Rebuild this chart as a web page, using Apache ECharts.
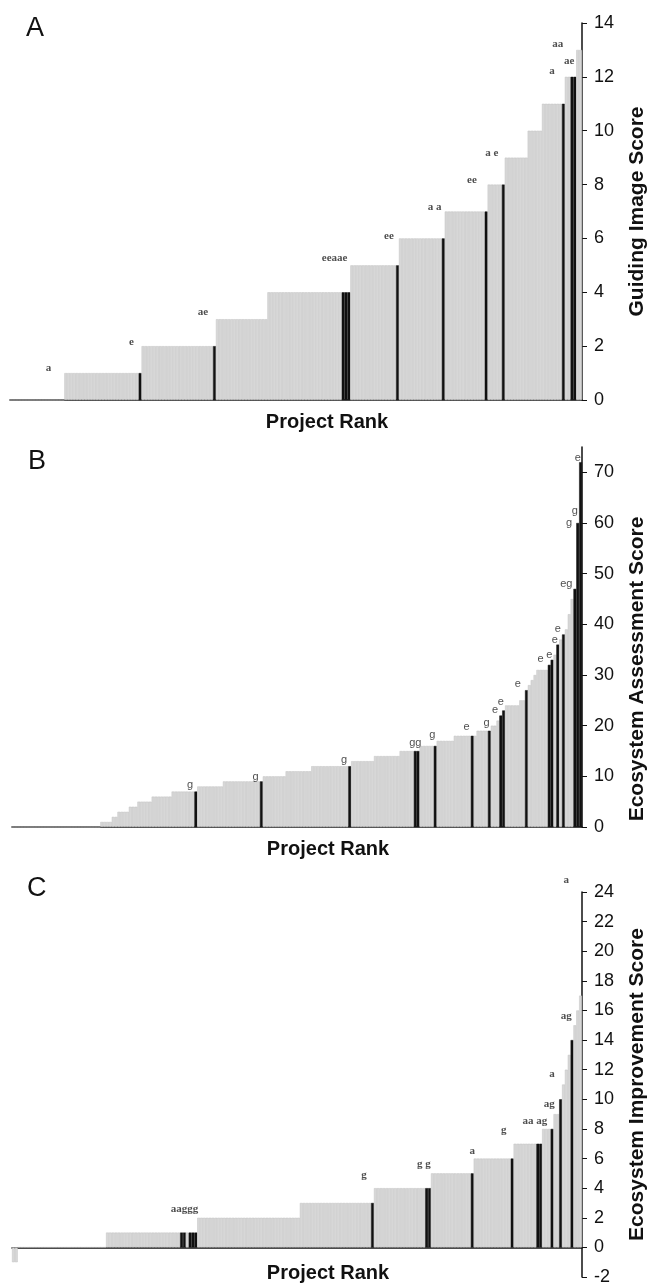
<!DOCTYPE html>
<html lang="en">
<head>
  <meta charset="UTF-8">
  <title>Project scores</title>
  <style>
    body { margin: 0; background: #fff; }
  </style>
</head>
<body>
  <div id="main" style="width:648px;height:1285px"></div>

  <script src="https://cdn.jsdelivr.net/npm/echarts@6/dist/echarts.min.js"></script>

  <script>
    // projects ranked from lowest to highest score, 200 in each panel
    var projectRanks = []
    for (var r = 1; r <= 200; r++) projectRanks.push(r)

    // [score, number of projects with that score], read left to right
    var guidingSteps = [[0,19],[1,27],[2,26],[3,18],[4,29],[5,17],[6,16],[7,15],[8,6],[9,8],[10,5],[11,8],[12,4],[13,2]]
    var assessmentSteps = [[0,31],[1,4],[2,2],[3,4],[4,3],[5,5],[6,7],[7,9],[8,9],[9,14],[10,8],[11,9],[12,14],[13,8],[14,9],[15,7],[16,6],[17,6],[18,8],[19,5],[20,2],[21,1],[22,1],[23,1],[24,5],[25,2],
      [27,1],[28,1],[29,1],[30,1],[31,4],[32,1],[33,1],[34,1],[36,1],[37,1],[38,1],[39,1],[42,1],[45,1],[47,1],[60,1],[72,1]]
    var improvementSteps = [[-1,2],[0,31],[1,32],[2,36],[3,26],[4,20],[5,15],[6,14],[7,10],[8,4],[9,2],[10,1],[11,1],[12,1],[13,1],[14,1],[15,1],[16,1],[17,1]]

    // ranks (0-based) of the highlighted projects, drawn black
    var guidingHighlight = [45, 71, 116, 117, 118, 135, 151, 166, 172, 193, 196, 197]
    var assessmentHighlight = [64, 87, 118, 141, 142, 148, 161, 167, 171, 172, 180, 188, 189, 191, 193, 197, 198, 199]
    var improvementHighlight = [59, 60, 62, 63, 64, 126, 145, 146, 161, 175, 184, 185, 189, 192, 196]

    // letter marks: rank, height in score units, text
    var guidingMarkRanks = [13, 42, 67, 113, 132, 148, 161, 168, 189, 191, 195]
    var guidingMarkLevels = [1.2, 2.15, 3.25, 5.25, 6.1, 7.15, 8.15, 9.15, 12.2, 13.2, 12.6]
    var guidingMarkTexts = ['a', 'e', 'ae', 'eeaae', 'ee', 'a a', 'ee', 'a e', 'a', 'aa', 'ae']

    var assessmentMarkRanks = [62, 85, 116, 141, 147, 159, 166, 169, 171, 177, 185, 188, 190, 191, 194, 195, 197, 198]
    var assessmentMarkLevels = [8.2, 9.8, 13.3, 16.5, 18.2, 19.7, 20.5, 23.1, 24.6, 28.2, 33.1, 33.9, 37.0, 39.1, 48.0, 60.1, 62.3, 72.8]
    var assessmentMarkTexts = ['g', 'g', 'g', 'gg', 'g', 'e', 'g', 'e', 'e', 'e', 'e', 'e', 'e', 'e', 'eg', 'g', 'g', 'e']

    var improvementMarkRanks = [60, 123, 144, 161, 172, 183, 188, 189, 194, 194]
    var improvementMarkLevels = [2.6, 4.9, 5.6, 6.5, 7.9, 8.5, 9.7, 11.7, 15.6, 24.8]
    var improvementMarkTexts = ['aaggg', 'g', 'g g', 'a', 'g', 'aa ag', 'ag', 'a', 'ag', 'a']

    function expand(steps) {
      var out = []
      steps.forEach(function (s) {
        for (var i = 0; i < s[1]; i++) out.push(s[0])
      })
      return out
    }

    function barData(steps, highlight) {
      return expand(steps).map(function (v, i) {
        if (highlight.indexOf(i) >= 0) return { value: v, itemStyle: { color: '#111', borderColor: '#111' } }
        return v
      })
    }

    function markData(ranks, levels, texts) {
      return ranks.map(function (r, i) {
        return { value: [r, levels[i]], label: { formatter: texts[i] } }
      })
    }

    var sans = 'Liberation Sans'
    // outerBoundsMode none: keep the plot where it is even though the axis titles reach the edge
    var grids = [
      { left: 10, width: 572, top: 23, height: 377, outerBoundsMode: 'none' },
      { left: 12, width: 570, top: 447, height: 380, outerBoundsMode: 'none' },
      { left: 12, width: 570, top: 892, height: 385, outerBoundsMode: 'none' }
    ]

    var xAxes = grids.map(function (g, i) {
      return {
        type: 'category',
        gridIndex: i,
        data: projectRanks,
        name: 'Project Rank',
        nameLocation: 'middle',
        nameGap: i === 2 ? -14 : 12,
        nameTextStyle: { fontFamily: sans, fontWeight: 'bold', fontSize: 20, color: '#111', padding: [0, 0, 0, 62], verticalAlign: 'top' },
        axisLine: { lineStyle: { color: '#111', width: 1.5 } },
        axisTick: { show: false },
        axisLabel: { show: false }
      }
    })

    function yAxis(i, name, min, max, interval, namePad) {
      return {
        type: 'value',
        gridIndex: i,
        position: 'right',
        min: min,
        max: max,
        interval: interval,
        name: name,
        nameLocation: 'middle',
        nameGap: 45,
        nameTextStyle: { fontFamily: sans, fontWeight: 'bold', fontSize: 21, color: '#111', padding: namePad },
        splitLine: { show: false },
        axisLine: { show: true, lineStyle: { color: '#111', width: 1.5 } },
        axisTick: { show: true, length: 5, lineStyle: { color: '#111' } },
        axisLabel: { fontFamily: sans, fontSize: 18, color: '#111', margin: 12 }
      }
    }

    var yB = yAxis(1, 'Ecosystem Assessment Score', 0, 75, 10, [0, 64, 0, 0])
    var ticksB = [0, 10, 20, 30, 40, 50, 60, 70]
    yB.axisTick.customValues = ticksB
    yB.axisLabel.customValues = ticksB

    var yAxes = [
      yAxis(0, 'Guiding Image Score', 0, 14, 2, [0, 0, 0, 0]),
      yB,
      yAxis(2, 'Ecosystem Improvement Score', -2, 24, 2, [0, 0, 0, 0])
    ]

    var grayBar = { color: '#d7d7d7', borderColor: '#c3c3c3', borderWidth: 0.5 }

    function barSeries(i, steps, highlight) {
      return {
        type: 'bar',
        xAxisIndex: i,
        yAxisIndex: i,
        barCategoryGap: '0%',
        itemStyle: grayBar,
        data: barData(steps, highlight)
      }
    }

    function markSeries(i, ranks, levels, texts, font, weight) {
      return {
        type: 'scatter',
        xAxisIndex: i,
        yAxisIndex: i,
        symbolSize: 1,
        clip: false,
        itemStyle: { color: 'rgba(0,0,0,0)' },
        label: { show: true, position: 'inside', fontFamily: font, fontWeight: weight, fontSize: 11, color: '#222' },
        data: markData(ranks, levels, texts)
      }
    }

    var myChart = echarts.init(document.getElementById('main'), null, { renderer: 'canvas' })

    var titleFont = { fontFamily: sans, fontWeight: 'normal', fontSize: 27, color: '#111' }
    var options = {
      animation: false,
      backgroundColor: '#fff',
      title: [
        { text: 'A', left: 21, top: 10, textStyle: titleFont },
        { text: 'B', left: 23, top: 443, textStyle: titleFont },
        { text: 'C', left: 22, top: 870, textStyle: titleFont }
      ],
      grid: grids,
      xAxis: xAxes,
      yAxis: yAxes,
      series: [
        barSeries(0, guidingSteps, guidingHighlight),
        barSeries(1, assessmentSteps, assessmentHighlight),
        barSeries(2, improvementSteps, improvementHighlight),
        markSeries(0, guidingMarkRanks, guidingMarkLevels, guidingMarkTexts, 'Liberation Serif', 'bold'),
        markSeries(1, assessmentMarkRanks, assessmentMarkLevels, assessmentMarkTexts, sans, 'normal'),
        markSeries(2, improvementMarkRanks, improvementMarkLevels, improvementMarkTexts, 'Liberation Serif', 'bold')
      ]
    }

    myChart.setOption(options)

    window.onresize = function () {
      myChart.resize()
    }
  </script>
</body>
</html>
